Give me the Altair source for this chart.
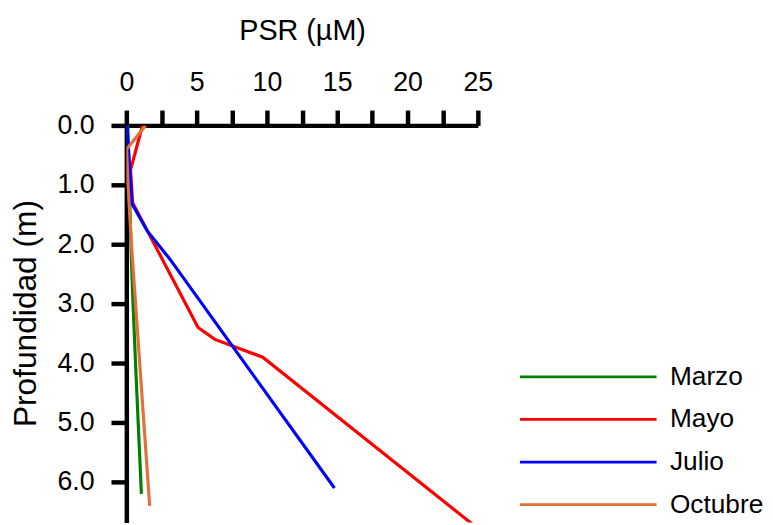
import altair as alt
import pandas as pd

# ---- data ----
series = ["Marzo", "Mayo", "Julio", "Octubre"]
colors = ["#008000", "#FF0000", "#0000FF", "#E2703A"]

marzo_depth = [0.0, 1.77, 2.6, 3.98, 6.2]
marzo_psr = [0.1, 0.3, 0.41, 0.65, 1.07]

mayo_depth = [0.0, 0.75, 1.3, 3.4, 3.6, 3.9, 6.8]
mayo_psr = [1.15, 0.3, 0.45, 5.1, 6.3, 9.7, 25.1]

julio_depth = [0.0, 1.32, 1.78, 2.25, 6.1]
julio_psr = [0.05, 0.4, 1.5, 3.1, 14.8]

octubre_depth = [0.0, 0.4, 1.0, 2.2, 6.4]
octubre_psr = [1.37, 0.02, 0.12, 0.42, 1.66]

x_ticks = [0, 2.5, 5, 7.5, 10, 12.5, 15, 17.5, 20, 22.5, 25]
y_ticks = [0, 1, 2, 3, 4, 5, 6]

rows = []
for name, dep, val in [
    ("Marzo", marzo_depth, marzo_psr),
    ("Mayo", mayo_depth, mayo_psr),
    ("Julio", julio_depth, julio_psr),
    ("Octubre", octubre_depth, octubre_psr),
]:
    for i, (d, v) in enumerate(zip(dep, val)):
        rows.append({"Mes": name, "Profundidad": d, "PSR": v, "orden": i})
df = pd.DataFrame(rows)
legend_df = pd.DataFrame({"Mes": series})

FONT = "Liberation Sans"
color_scale = alt.Scale(domain=series, range=colors)

lines = (
    alt.Chart(df)
    .mark_line(strokeWidth=3.2, clip=True)
    .encode(
        x=alt.X(
            "PSR:Q",
            scale=alt.Scale(domain=[0, 25], nice=False, zero=False),
            axis=alt.Axis(
                orient="top",
                values=x_ticks,
                labelExpr="datum.value % 5 == 0 ? format(datum.value, 'd') : ''",
                title="PSR (µM)",
                titleFontSize=29,
                titleX=177.5,
                titleY=-87,
                titleAlign="center",
                titleBaseline="alphabetic",
                labelPadding=14,
            ),
        ),
        y=alt.Y(
            "Profundidad:Q",
            scale=alt.Scale(domain=[0, 6.68], reverse=True, nice=False, zero=False),
            axis=alt.Axis(
                values=y_ticks,
                format=".1f",
                title="Profundidad (m)",
                titleFontSize=32,
                titleAngle=270,
                titleX=-101.5,
                titleY=189.5,
                titleAlign="center",
                titleBaseline="middle",
                labelPadding=17,
            ),
        ),
        color=alt.Color("Mes:N", scale=color_scale, legend=None),
        order=alt.Order("orden:Q"),
    )
)

legend_y = alt.Y(
    "Mes:N",
    sort=series,
    scale=alt.Scale(type="point", domain=series, range=[254, 383], padding=0),
    axis=None,
)

legend_lines = (
    alt.Chart(legend_df)
    .mark_rule(strokeWidth=2.8)
    .encode(
        x=alt.value(397.5),
        x2=alt.value(535.5),
        y=legend_y,
        color=alt.Color("Mes:N", scale=color_scale, legend=None),
    )
)

legend_text = (
    alt.Chart(legend_df)
    .mark_text(align="left", baseline="middle", font=FONT, fontSize=26.5, color="black")
    .encode(
        x=alt.value(549),
        y=legend_y,
        text="Mes:N",
    )
)

chart = (
    alt.layer(lines, legend_lines, legend_text)
    .resolve_scale(y="independent")
    .properties(
        width=355,
        height=401,
        autosize=alt.AutoSizeParams(type="none"),
        padding={"left": 119.5, "top": 116, "right": 290, "bottom": 0},
    )
    .configure_view(stroke=None)
    .configure_axis(
        grid=False,
        domainColor="black",
        domainWidth=4.5,
        tickColor="black",
        tickWidth=4.5,
        tickSize=15.5,
        labelFont=FONT,
        labelFontSize=27,
        labelColor="black",
        labelFlush=False,
        labelOverlap=False,
        titleFont=FONT,
        titleColor="black",
        titleFontWeight="normal",
    )
)

chart.save("out.html", embed_options={"renderer": "svg", "actions": False})
